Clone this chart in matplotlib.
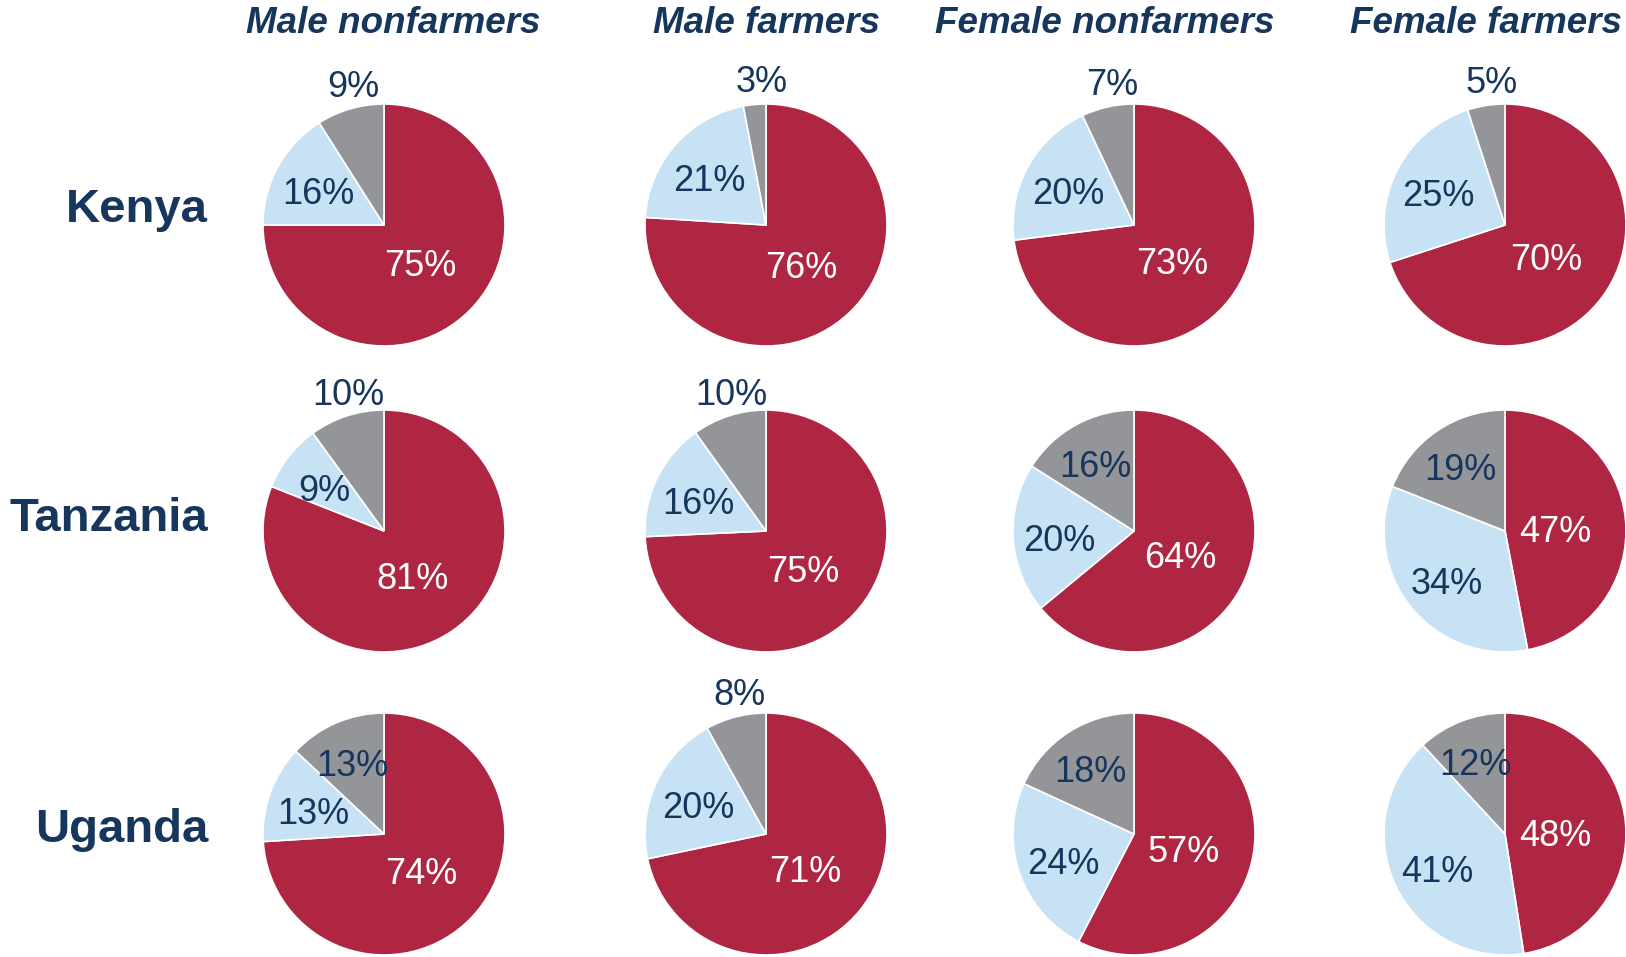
# -*- coding: UTF-8 -*-
# 东非三国 按性别/是否务农 的饼图网格
import numpy as np
import matplotlib
matplotlib.use('Agg')
import matplotlib.pyplot as plt

plt.rcParams['font.family'] = ['Liberation Sans', 'DejaVu Sans']

# 数据：每个饼 [红, 浅蓝, 灰]
countries = ['Kenya', 'Tanzania', 'Uganda']
groups = ['Male nonfarmers', 'Male farmers', 'Female nonfarmers', 'Female farmers']

kenya = [[75, 16, 9], [76, 21, 3], [73, 20, 7], [70, 25, 5]]
tanzania = [[81, 9, 10], [75, 16, 10], [64, 20, 16], [47, 34, 19]]
uganda = [[74, 13, 13], [71, 20, 8], [57, 24, 18], [48, 41, 12]]
all_rows = [kenya, tanzania, uganda]

colors = ['#AF2643', '#C7E2F5', '#939598']
navy = '#17365D'

W, H = 1626, 957
fig = plt.figure(figsize=(W / 100, H / 100), dpi=100)

# 布局（像素）
col_x = [384, 766, 1134, 1505]
row_y = [225, 531, 834]
title_x = [393, 766, 1105, 1486]
label_base = [222, 531, 842]
r = 121


def px(x, y):
    return x / W, 1 - y / H


for i, row in enumerate(all_rows):
    for j, vals in enumerate(row):
        cx, cy = col_x[j], row_y[i]
        ax = fig.add_axes([(cx - r) / W, 1 - (cy + r) / H, 2 * r / W, 2 * r / H])
        wedges, _ = ax.pie(vals, colors=colors, startangle=90, counterclock=False,
                           radius=1, wedgeprops=dict(edgecolor='white', linewidth=1.2))
        ax.set_xlim(-1, 1)
        ax.set_ylim(-1, 1)
        ax.set_aspect('equal')
        ax.axis('off')

        for k, w in enumerate(wedges):
            mid = np.deg2rad((w.theta1 + w.theta2) / 2)
            tx, ty = np.cos(mid), np.sin(mid)
            c = 'white' if k == 0 else navy
            if k == 2 and vals[k] <= 10:  # 小扇区标签放在外面
                lx, ly = 1.2 * tx + 0.08, 1.18 * ty
            else:
                d = [0.42, 0.62, 0.66][k]
                lx, ly = d * tx, d * ty - 0.05
            ax.text(lx, ly, '%d%%' % vals[k],
                    ha='center', va='center', fontsize=26, color=c, clip_on=False)

# 列标题
for j, g in enumerate(groups):
    x, y = px(title_x[j], 33)
    fig.text(x, y, g, ha='center', va='baseline', fontsize=26.5,
             fontweight='bold', fontstyle='italic', color=navy)

# 行标题
for i, c in enumerate(countries):
    x, y = px(208, label_base[i])
    fig.text(x, y, c, ha='right', va='baseline', fontsize=34,
             fontweight='bold', color=navy)

plt.savefig('out.png', dpi=100)
